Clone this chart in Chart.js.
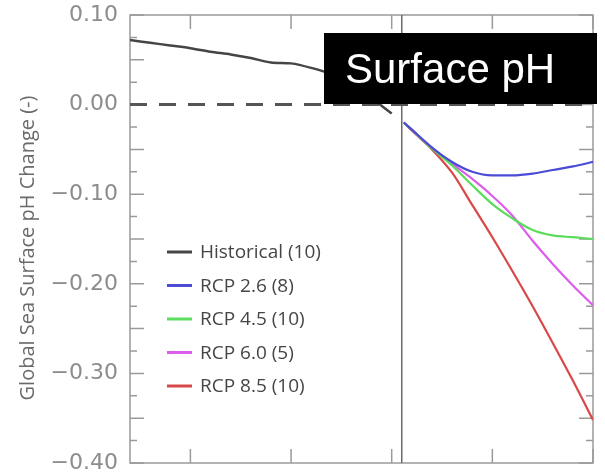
<!DOCTYPE html>
<html>
<head>
<meta charset="utf-8">
<script src="https://cdn.jsdelivr.net/npm/chart.js@4.4.1/dist/chart.umd.min.js"></script>
<style>
  html, body { margin: 0; padding: 0; background: #fff; }
  #wrap { width: 605px; height: 476px; position: relative; }
</style>
</head>
<body>
<div id="wrap"><canvas id="ph-chart"></canvas></div>
<script>
// Data
var histYears = [1870, 1880, 1890, 1900, 1910, 1920, 1930, 1940, 1950, 1960, 1970, 1980, 1990, 2000];
var histValues = [0.072, 0.069, 0.066, 0.063, 0.059, 0.056, 0.052, 0.047, 0.046, 0.041, 0.034, 0.022, 0.007, -0.010];

var projYears = [2006, 2010, 2020, 2030, 2040, 2050, 2060, 2070, 2080, 2090, 2100];
var rcp26 = [-0.020, -0.028, -0.048, -0.064, -0.075, -0.079, -0.079, -0.077, -0.073, -0.069, -0.064];
var rcp45 = [-0.020, -0.028, -0.049, -0.068, -0.090, -0.111, -0.127, -0.140, -0.146, -0.148, -0.150];
var rcp60 = [-0.020, -0.028, -0.048, -0.066, -0.083, -0.102, -0.124, -0.152, -0.178, -0.202, -0.224];
var rcp85 = [-0.020, -0.029, -0.050, -0.076, -0.112, -0.148, -0.186, -0.225, -0.266, -0.308, -0.352];

var zeroYears = [1870, 2100];
var zeroValues = [0, 0];

var seriesNames = ["Historical (10)", "RCP 2.6 (8)", "RCP 4.5 (10)", "RCP 6.0 (5)", "RCP 8.5 (10)"];
var seriesColors = ["#454545", "#4b4bd6", "#5cdc5c", "#dc5cec", "#d84848"];

var yLabelValues = [0.10, 0.00, -0.10, -0.20, -0.30, -0.40];
var yLabelTexts = ["0.10", "0.00", "\u22120.10", "\u22120.20", "\u22120.30", "\u22120.40"];
var xTickYears = [1900, 1950, 2000, 2050, 2100];
var splitYear = 2005;

function pairs(xs, ys) {
    return xs.map(function (x, i) { return {x: x, y: ys[i]}; });
}

var datasets = [
    {label: seriesNames[0], data: pairs(histYears, histValues), borderColor: seriesColors[0], borderWidth: 2.5, tension: 0.3},
    {label: seriesNames[1], data: pairs(projYears, rcp26), borderColor: seriesColors[1], borderWidth: 2.2, cubicInterpolationMode: "monotone"},
    {label: seriesNames[2], data: pairs(projYears, rcp45), borderColor: seriesColors[2], borderWidth: 2.2, cubicInterpolationMode: "monotone"},
    {label: seriesNames[3], data: pairs(projYears, rcp60), borderColor: seriesColors[3], borderWidth: 2.2, cubicInterpolationMode: "monotone"},
    {label: seriesNames[4], data: pairs(projYears, rcp85), borderColor: seriesColors[4], borderWidth: 2.2, cubicInterpolationMode: "monotone"},
    {label: "", data: pairs(zeroYears, zeroValues), borderColor: "#555", borderWidth: 3, borderDash: [17, 12]}
];

// Frame, inward tick marks, split line, axis title, legend and title box
var framePlugin = {
    id: "frame",
    beforeDatasetsDraw: function (chart) {
        var ctx = chart.ctx, a = chart.chartArea;
        var xs = chart.scales.x, ys = chart.scales.y;
        ctx.save();
        ctx.strokeStyle = "#9a9a9a";
        ctx.lineWidth = 1.5;
        ctx.strokeRect(a.left, a.top, a.right - a.left, a.bottom - a.top);

        ys.ticks.forEach(function (t, i) {
            var y = ys.getPixelForValue(t.value);
            var len = (i % 2 === 0) ? 14 : 7;
            ctx.beginPath();
            ctx.moveTo(a.left, y); ctx.lineTo(a.left + len, y);
            ctx.moveTo(a.right, y); ctx.lineTo(a.right - len, y);
            ctx.stroke();
        });
        xTickYears.forEach(function (yr) {
            var x = xs.getPixelForValue(yr);
            ctx.beginPath();
            ctx.moveTo(x, a.top); ctx.lineTo(x, a.top + 14);
            ctx.moveTo(x, a.bottom); ctx.lineTo(x, a.bottom - 14);
            ctx.stroke();
        });

        var sx = xs.getPixelForValue(splitYear);
        ctx.strokeStyle = "#6a6a6a";
        ctx.beginPath();
        ctx.moveTo(sx, a.top); ctx.lineTo(sx, a.bottom);
        ctx.stroke();

        // y-axis title
        ctx.translate(28, 248);
        ctx.rotate(-Math.PI / 2);
        ctx.fillStyle = "#6a6a6a";
        ctx.font = "20px 'Open Sans'";
        ctx.textAlign = "center";
        ctx.textBaseline = "middle";
        ctx.fillText("Global Sea Surface pH Change (-)", 0, 0);
        ctx.restore();
    },
    afterDatasetsDraw: function (chart) {
        var ctx = chart.ctx;
        ctx.save();
        ctx.font = "19px 'Open Sans'";
        ctx.textBaseline = "middle";
        chart.data.datasets.forEach(function (ds, i) {
            if (!ds.label) return;
            var y = 252 + i * 33.5;
            ctx.strokeStyle = ds.borderColor;
            ctx.lineWidth = 3;
            ctx.beginPath();
            ctx.moveTo(167, y); ctx.lineTo(192, y);
            ctx.stroke();
            ctx.fillStyle = "#454545";
            ctx.fillText(ds.label, 200, y + 1);
        });

        ctx.fillStyle = "#000";
        ctx.fillRect(324, 33, 273, 71);
        ctx.fillStyle = "#fff";
        ctx.font = "42px 'Liberation Sans', Arial, sans-serif";
        ctx.textBaseline = "alphabetic";
        ctx.fillText("Surface pH", 345, 83);
        ctx.restore();
    }
};

var ctx = document.getElementById("ph-chart").getContext("2d");
var phChart = new Chart(ctx, {
    type: "line",
    data: {datasets: datasets},
    options: {
        responsive: true,
        maintainAspectRatio: false,
        animation: false,
        layout: {padding: {left: 17, right: 12, top: 15, bottom: 13}},
        elements: {point: {radius: 0}},
        plugins: {legend: {display: false}, tooltip: {enabled: false}},
        scales: {
            x: {type: "linear", min: 1870, max: 2100, display: false},
            y: {
                min: -0.4,
                max: 0.1,
                border: {display: false},
                grid: {display: false, drawTicks: false},
                ticks: {
                    stepSize: 0.025,
                    autoSkip: false,
                    padding: 12,
                    color: "#8c8c8c",
                    font: {family: "DejaVu Sans", size: 22},
                    callback: function (value) {
                        var k = yLabelValues.findIndex(function (v) { return Math.abs(v - value) < 1e-6; });
                        return k >= 0 ? yLabelTexts[k] : "";
                    }
                },
                afterFit: function (scale) {
                    scale.width = 113;
                    scale.paddingTop = 0;
                    scale.paddingBottom = 0;
                }
            }
        }
    },
    plugins: [framePlugin]
});
</script>
</body>
</html>
